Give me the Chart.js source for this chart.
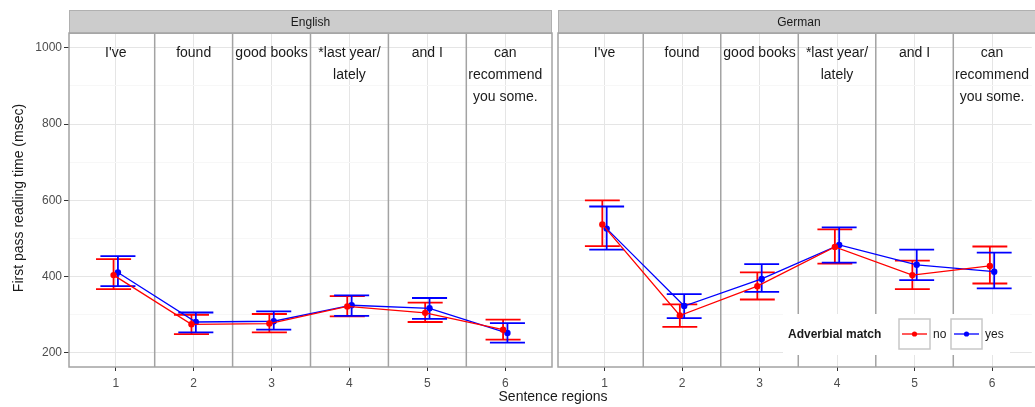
<!DOCTYPE html>
<html>
<head>
<meta charset="utf-8">
<script src="https://cdn.jsdelivr.net/npm/chart.js@4"></script>
<style>
  html, body { margin: 0; padding: 0; background: #fff; overflow: hidden; }
  #wrap { position: relative; width: 1035px; height: 407px; }
  #wrap canvas { position: absolute; left: 0; top: 0; }
</style>
</head>
<body>
<div id="wrap">
  <canvas id="english" width="1035" height="407"></canvas>
  <canvas id="german" width="1035" height="407"></canvas>
</div>
<script>
// sentence regions and their words
const regions = [1, 2, 3, 4, 5, 6];
const regionLabels = [["I've"], ['found'], ['good books'], ['*last year/', 'lately'], ['and I'], ['can', 'recommend', 'you some.']];
const regionBreaks = [1.5, 2.5, 3.5, 4.5, 5.5];
const languages = ['English', 'German'];
const matchLevels = ['no', 'yes'];
const yTicks = [200, 300, 400, 500, 600, 700, 800, 900, 1000];
const yLabelTicks = [200, 400, 600, 800, 1000];

// first pass reading times (msec), mean and error bar ends
const englishNo = [404, 275, 277, 322, 305, 261];
const englishNoLow = [367, 249, 254, 296, 281, 235];
const englishNoHigh = [446, 300, 302, 349, 332, 287];
const englishYes = [411, 281, 283, 325, 317, 252];
const englishYesLow = [375, 254, 261, 297, 289, 227];
const englishYesHigh = [454, 306, 309, 351, 344, 278];

const germanNo = [537, 298, 375, 478, 404, 428];
const germanNoLow = [480, 268, 340, 434, 367, 382];
const germanNoHigh = [600, 327, 411, 524, 442, 479];
const germanYes = [526, 323, 394, 483, 431, 413];
const germanYesLow = [471, 291, 360, 437, 391, 369];
const germanYesHigh = [584, 354, 433, 529, 471, 463];

const FONT = "'Liberation Sans', Arial, sans-serif";
const RED = '#ff0000';
const BLUE = '#0000ff';
const DODGE = 0.028;
const CAP = 0.225;

function series(label, color, offset, mean, low, high) {
  return {
    label: label,
    data: regions.map((r, i) => ({ x: r + offset, y: mean[i] })),
    offset: offset,
    errLow: low,
    errHigh: high,
    borderColor: color,
    backgroundColor: color,
    pointBackgroundColor: color,
    borderWidth: 1.3,
    pointRadius: 3.2,
    pointBorderWidth: 0,
    pointHoverRadius: 3.2
  };
}

const panel = {
  id: 'panel',
  beforeDatasetsDraw(chart, args, opts) {
    const { ctx, chartArea, scales: { x } } = chart;
    ctx.save();
    ctx.strokeStyle = '#a3a3a3';
    ctx.lineWidth = 1.5;
    regionBreaks.forEach(b => {
      const px = x.getPixelForValue(b);
      ctx.beginPath();
      ctx.moveTo(px, chartArea.top);
      ctx.lineTo(px, chartArea.bottom);
      ctx.stroke();
    });
    ctx.restore();
  },
  afterDraw(chart, args, opts) {
    const { ctx, chartArea, scales: { x } } = chart;
    const right = chartArea.right + (opts.openRight ? 8 : 0);
    const w = right - chartArea.left;
    ctx.save();
    // strip
    ctx.fillStyle = '#cccccc';
    ctx.fillRect(chartArea.left, 10, w, chartArea.top - 10);
    ctx.strokeStyle = '#b0b0b0';
    ctx.lineWidth = 1;
    ctx.strokeRect(chartArea.left + 0.5, 10.5, w - 1, chartArea.top - 10);
    ctx.fillStyle = '#1a1a1a';
    ctx.font = `12px ${FONT}`;
    ctx.textAlign = 'center';
    ctx.textBaseline = 'middle';
    ctx.fillText(opts.title, (chartArea.left + right) / 2, (10 + chartArea.top) / 2 + 1);
    // panel border
    ctx.strokeStyle = '#a3a3a3';
    ctx.lineWidth = 1.5;
    ctx.strokeRect(chartArea.left, chartArea.top, w, chartArea.bottom - chartArea.top);
    // region words
    ctx.fillStyle = '#1a1a1a';
    ctx.font = `14px ${FONT}`;
    regions.forEach((r, i) => {
      const px = x.getPixelForValue(r);
      regionLabels[i].forEach((line, j) => {
        ctx.fillText(line, px, chartArea.top + 20 + j * 22);
      });
    });
    ctx.restore();
  }
};

const errorBars = {
  id: 'errorBars',
  beforeDatasetsDraw(chart) {
    const { ctx, scales: { x, y } } = chart;
    ctx.save();
    chart.data.datasets.forEach(ds => {
      ctx.strokeStyle = ds.borderColor;
      ctx.lineWidth = 1.8;
      regions.forEach((r, i) => {
        const cx = x.getPixelForValue(r + ds.offset);
        const xl = x.getPixelForValue(r + ds.offset - CAP);
        const xr = x.getPixelForValue(r + ds.offset + CAP);
        const yl = y.getPixelForValue(ds.errLow[i]);
        const yh = y.getPixelForValue(ds.errHigh[i]);
        ctx.beginPath();
        ctx.moveTo(cx, yl); ctx.lineTo(cx, yh);
        ctx.moveTo(xl, yl); ctx.lineTo(xr, yl);
        ctx.moveTo(xl, yh); ctx.lineTo(xr, yh);
        ctx.stroke();
      });
    });
    ctx.restore();
  }
};

const axisTitles = {
  id: 'axisTitles',
  afterDraw(chart) {
    const { ctx, chartArea } = chart;
    ctx.save();
    ctx.fillStyle = '#1a1a1a';
    ctx.font = `14px ${FONT}`;
    ctx.textAlign = 'center';
    ctx.textBaseline = 'middle';
    ctx.fillText('Sentence regions', 553, 397);
    ctx.translate(19, (chartArea.top + chartArea.bottom) / 2 - 2);
    ctx.rotate(-Math.PI / 2);
    ctx.fillText('First pass reading time (msec)', 0, 0);
    ctx.restore();
  }
};

const matchLegend = {
  id: 'matchLegend',
  afterDraw(chart) {
    const { ctx } = chart;
    ctx.save();
    ctx.fillStyle = '#ffffff';
    ctx.fillRect(783, 314, 227, 41);
    ctx.fillStyle = '#1a1a1a';
    ctx.font = `bold 12px ${FONT}`;
    ctx.textAlign = 'left';
    ctx.textBaseline = 'middle';
    ctx.fillText('Adverbial match', 788, 335);
    let kx = 899;
    chart.data.datasets.forEach(ds => {
      ctx.strokeStyle = '#c8c8c8';
      ctx.lineWidth = 1.5;
      ctx.strokeRect(kx, 319, 31, 30);
      ctx.strokeStyle = ds.borderColor;
      ctx.lineWidth = 1.3;
      ctx.beginPath();
      ctx.moveTo(kx + 3, 334);
      ctx.lineTo(kx + 28, 334);
      ctx.stroke();
      ctx.fillStyle = ds.borderColor;
      ctx.beginPath();
      ctx.arc(kx + 15.5, 334, 2.6, 0, Math.PI * 2);
      ctx.fill();
      ctx.fillStyle = '#1a1a1a';
      ctx.font = `12px ${FONT}`;
      ctx.fillText(ds.label, kx + 34, 335);
      kx += 52;
    });
    ctx.restore();
  }
};

function scalesFor(xMax, showY) {
  return {
    x: {
      type: 'linear',
      min: 0.4,
      max: xMax,
      afterBuildTicks: axis => { axis.ticks = regions.map(v => ({ value: v })); },
      afterFit: axis => { axis.height = 40; },
      grid: { color: '#e5e5e5', lineWidth: 1, tickLength: 4, tickColor: '#333333' },
      border: { display: false },
      ticks: { color: '#4d4d4d', font: { family: FONT, size: 12 }, padding: 5, maxRotation: 0, autoSkip: false }
    },
    y: {
      type: 'linear',
      min: 163,
      max: 1039,
      afterBuildTicks: axis => { axis.ticks = yTicks.map(v => ({ value: v })); },
      afterFit: axis => { axis.width = showY ? 69 : 0; },
      grid: {
        color: c => yLabelTicks.includes(c.tick && c.tick.value) ? '#e5e5e5' : '#f7f7f7',
        tickColor: c => yLabelTicks.includes(c.tick && c.tick.value) ? '#333333' : 'rgba(0,0,0,0)',
        tickLength: 5,
        drawTicks: showY
      },
      border: { display: false },
      ticks: {
        display: showY,
        color: '#4d4d4d',
        font: { family: FONT, size: 12 },
        padding: 2,
        autoSkip: false,
        callback: v => yLabelTicks.includes(v) ? v : ''
      }
    }
  };
}

function makePanel(id, title, xMax, showY, openRight, padding, datasets, extra) {
  return new Chart(document.getElementById(id), {
    type: 'line',
    data: { datasets: datasets },
    options: {
      responsive: false,
      animation: false,
      events: [],
      layout: { padding: padding },
      scales: scalesFor(xMax, showY),
      plugins: {
        legend: { display: false },
        tooltip: { enabled: false },
        panel: { title: title, openRight: openRight }
      }
    },
    plugins: [panel, errorBars].concat(extra)
  });
}

makePanel('english', languages[0], 6.6, true, false, { left: 0, right: 483, top: 33, bottom: 0 }, [
  series(matchLevels[0], RED, -DODGE, englishNo, englishNoLow, englishNoHigh),
  series(matchLevels[1], BLUE, DODGE, englishYes, englishYesLow, englishYesHigh)
], [axisTitles]);

makePanel('german', languages[1], 6.513, false, true, { left: 558, right: 0, top: 33, bottom: 0 }, [
  series(matchLevels[0], RED, -DODGE, germanNo, germanNoLow, germanNoHigh),
  series(matchLevels[1], BLUE, DODGE, germanYes, germanYesLow, germanYesHigh)
], [matchLegend]);
</script>
</body>
</html>
